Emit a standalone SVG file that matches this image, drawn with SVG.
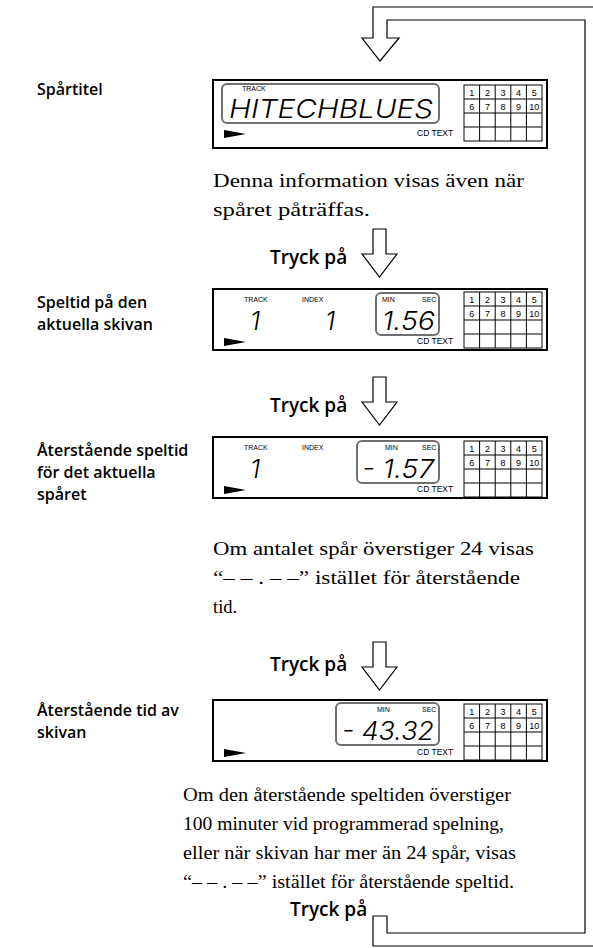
<svg xmlns="http://www.w3.org/2000/svg" xmlns:xlink="http://www.w3.org/1999/xlink" width="593" height="948" viewBox="0 0 593 948">
<style>
.lbl{font-family:"Open Sans","Noto Sans",sans-serif;font-weight:600;font-size:16px;fill:#000}
.tryck{font-family:"Open Sans","Noto Sans",sans-serif;font-weight:600;font-size:19px;fill:#000}
.body{font-family:"Liberation Serif",serif;font-size:18.5px;fill:#000}
.box{fill:#fff;stroke:#000;stroke-width:2}
.frame{fill:none;stroke:#707070;stroke-width:2}
.tiny{font-family:"Liberation Sans",Arial,sans-serif;font-size:7px;fill:#000}
.cdt{font-family:"Liberation Sans",Arial,sans-serif;font-size:8.5px;fill:#000}
.seg{font-family:Inter,"DejaVu Sans",sans-serif;font-weight:300;font-style:italic;font-size:26px;fill:#000}
.gl{fill:none;stroke:#000;stroke-width:1}
.gn{font-family:"Liberation Sans",Arial,sans-serif;font-size:9px;fill:#000;text-anchor:middle}
.ln{fill:none;stroke:#000;stroke-width:1.2}
.arr{fill:#fff;stroke:#000;stroke-width:1.2;stroke-linejoin:miter}
</style>
<defs>
<g id="grid">
<rect class="gl" x="0" y="0" width="78" height="56"/>
<path class="gl" d="M15.6,0V56M31.2,0V56M46.8,0V56M62.4,0V56M0,14H78M0,28H78M0,42H78"/>
<text class="gn" x="7.8" y="10.5">1</text><text class="gn" x="23.4" y="10.5">2</text><text class="gn" x="39" y="10.5">3</text><text class="gn" x="54.6" y="10.5">4</text><text class="gn" x="70.2" y="10.5">5</text>
<text class="gn" x="7.8" y="24.5">6</text><text class="gn" x="23.4" y="24.5">7</text><text class="gn" x="39" y="24.5">8</text><text class="gn" x="54.6" y="24.5">9</text><text class="gn" x="70.2" y="24.5">10</text>
</g>
<path id="play" d="M0,0L22,4L0,8Z" fill="#000"/>
<path id="down" class="arr" d="M11,0H24V25H35L17.5,48L0,25H11Z"/>
</defs>

<g id="connectors">
<path class="ln" d="M593,7H373V38H362L380,61L399,38H387V20H585V933H387V916H373V946H593"/>
</g>

<g id="label-spartitel"><text class="lbl" x="37" y="95">Spårtitel</text></g>

<g id="display1">
<rect class="box" x="213" y="80" width="334" height="68"/>
<rect class="frame" x="222" y="84" width="217" height="39" rx="5"/>
<text class="tiny" x="242" y="91">TRACK</text>
<text class="seg" x="229" y="118" textLength="204" lengthAdjust="spacingAndGlyphs">HITECHBLUES</text>
<use xlink:href="#play" x="224" y="130"/>
<text class="cdt" x="417" y="136">CD TEXT</text>
<use xlink:href="#grid" x="464" y="85"/>
</g>

<g id="note1">
<text class="body" x="213" y="187" textLength="311" lengthAdjust="spacingAndGlyphs">Denna information visas även när</text>
<text class="body" x="213" y="216" textLength="157" lengthAdjust="spacingAndGlyphs">spåret påträffas.</text>
</g>

<g id="press1">
<text class="tryck" x="270" y="264">Tryck på</text>
<use xlink:href="#down" x="362" y="229"/>
</g>

<g id="label-speltid"><text class="lbl" x="37" y="308">Speltid på den</text><text class="lbl" x="37" y="330">aktuella skivan</text></g>

<g id="display2">
<rect class="box" x="213" y="289" width="334" height="61"/>
<text class="tiny" x="244" y="302">TRACK</text>
<text class="tiny" x="302" y="302">INDEX</text>
<text class="seg" x="250" y="330">1</text>
<text class="seg" x="325" y="330">1</text>
<rect class="frame" x="376" y="293" width="63" height="42" rx="5"/>
<text class="tiny" x="382" y="302">MIN</text>
<text class="tiny" x="422" y="302">SEC</text>
<text class="seg" x="382" y="330" textLength="53" lengthAdjust="spacingAndGlyphs">1.56</text>
<use xlink:href="#play" x="224" y="338"/>
<text class="cdt" x="417" y="344">CD TEXT</text>
<use xlink:href="#grid" x="464" y="292"/>
</g>

<g id="press2">
<text class="tryck" x="270" y="412">Tryck på</text>
<use xlink:href="#down" x="362" y="377"/>
</g>

<g id="label-aterstaende"><text class="lbl" x="37" y="456">Återstående speltid</text><text class="lbl" x="37" y="478">för det aktuella</text><text class="lbl" x="37" y="500">spåret</text></g>

<g id="display3">
<rect class="box" x="213" y="437" width="334" height="61"/>
<text class="tiny" x="244" y="450">TRACK</text>
<text class="tiny" x="302" y="450">INDEX</text>
<text class="seg" x="250" y="478">1</text>
<rect class="frame" x="357" y="441" width="82" height="42" rx="5"/>
<text class="tiny" x="385" y="450">MIN</text>
<text class="tiny" x="422" y="450">SEC</text>
<text class="seg" x="362" y="478" textLength="72" lengthAdjust="spacingAndGlyphs">- 1.57</text>
<use xlink:href="#play" x="224" y="486"/>
<text class="cdt" x="417" y="492">CD TEXT</text>
<use xlink:href="#grid" x="464" y="441"/>
</g>

<g id="note2">
<text class="body" x="213" y="555" textLength="321" lengthAdjust="spacingAndGlyphs">Om antalet spår överstiger 24 visas</text>
<text class="body" x="213" y="584" textLength="307" lengthAdjust="spacingAndGlyphs">“– – . – –” istället för återstående</text>
<text class="body" x="213" y="613">tid.</text>
</g>

<g id="press3">
<text class="tryck" x="270" y="671">Tryck på</text>
<use xlink:href="#down" x="362" y="642"/>
</g>

<g id="label-tid"><text class="lbl" x="37" y="716">Återstående tid av</text><text class="lbl" x="37" y="738">skivan</text></g>

<g id="display4">
<rect class="box" x="213" y="700" width="334" height="61"/>
<rect class="frame" x="336" y="703" width="103" height="42" rx="5"/>
<text class="tiny" x="377" y="712">MIN</text>
<text class="tiny" x="422" y="712">SEC</text>
<text class="seg" x="342" y="740" textLength="92" lengthAdjust="spacingAndGlyphs">- 43.32</text>
<use xlink:href="#play" x="224" y="749"/>
<text class="cdt" x="417" y="755">CD TEXT</text>
<use xlink:href="#grid" x="464" y="704"/>
</g>

<g id="note3">
<text class="body" x="183" y="801" textLength="328" lengthAdjust="spacingAndGlyphs">Om den återstående speltiden överstiger</text>
<text class="body" x="183" y="830" textLength="321" lengthAdjust="spacingAndGlyphs">100 minuter vid programmerad spelning,</text>
<text class="body" x="183" y="859" textLength="333" lengthAdjust="spacingAndGlyphs">eller när skivan har mer än 24 spår, visas</text>
<text class="body" x="183" y="888" textLength="331" lengthAdjust="spacingAndGlyphs">“– – . – –” istället för återstående speltid.</text>
</g>

<g id="press4">
<text class="tryck" x="290" y="916">Tryck på</text>
</g>
</svg>
